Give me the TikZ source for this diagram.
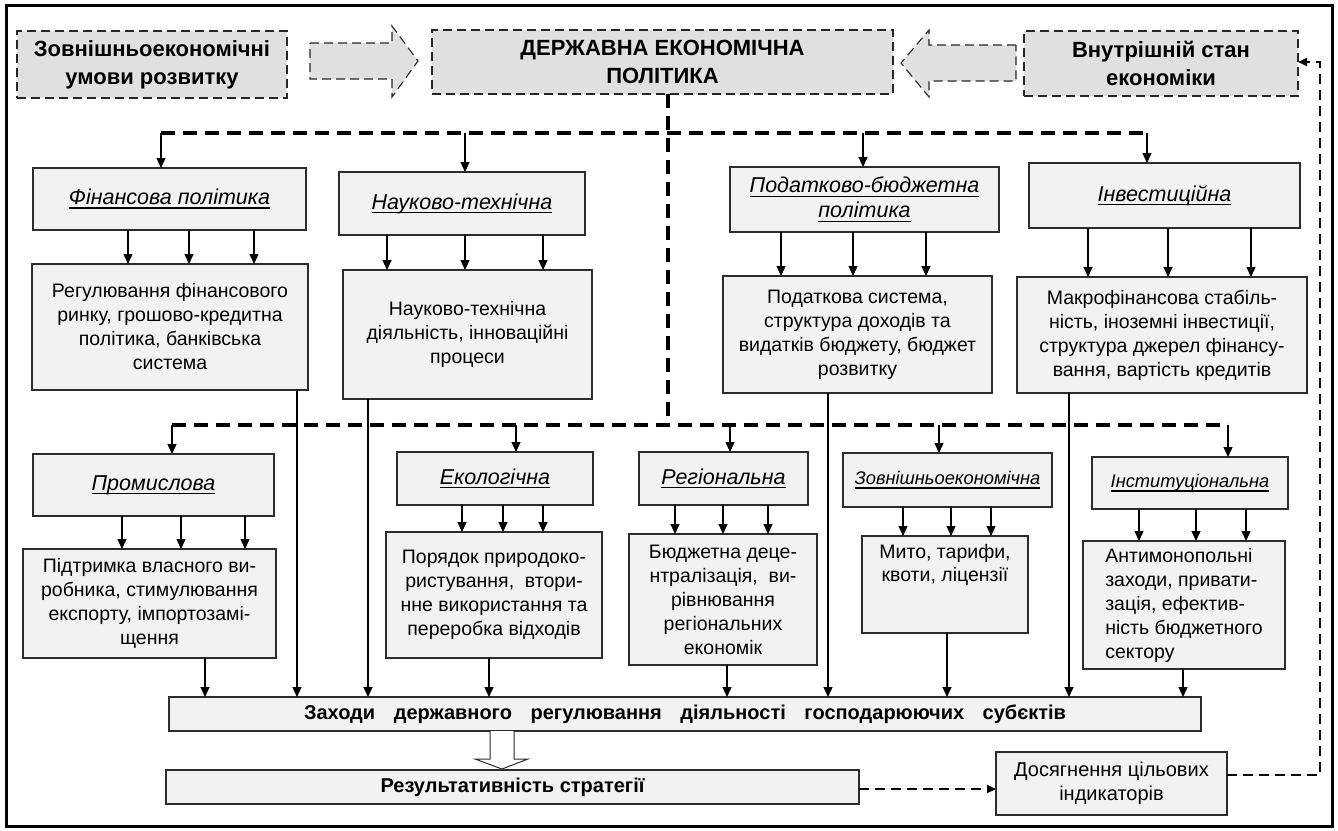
\documentclass[tikz,border=0pt]{standalone}
\usepackage{fontspec}
\setmainfont{Liberation Sans}
\usetikzlibrary{arrows.meta}
\definecolor{topgrey}{RGB}{224,224,224}
\definecolor{boxgrey}{RGB}{242,242,242}
\definecolor{edge}{RGB}{45,45,45}
\newsavebox\myulbox
\newcommand\myul[1]{\sbox\myulbox{#1}\rlap{\rule[-4pt]{\wd\myulbox}{1.3pt}}\usebox\myulbox}
\newcommand\mkbox[6]{\node[#2, minimum width={(#5-#3)*1pt}, minimum height={(#6-#4)*1pt}] (#1) at ({(#3+#5)/2},{(#4+#6)/2})}
\tikzset{
  topbox/.style={draw=black!85, dash pattern=on 9pt off 5pt, line width=1.1pt, fill=topgrey, inner sep=0pt, outer sep=0pt, align=center, font=\fontsize{22}{28}\selectfont\bfseries},
  pbox/.style={draw=edge, line width=1.1pt, fill=boxgrey, inner sep=0pt, outer sep=0pt, align=center, font=\fontsize{19.5}{24}\selectfont},
  tbox/.style={pbox, font=\fontsize{21.5}{25}\selectfont\itshape},
  sbox/.style={pbox, font=\fontsize{18.3}{22}\selectfont\itshape},
  barbox/.style={pbox, font=\fontsize{20}{24}\selectfont\bfseries},
  bigdash/.style={line width=3.5pt, dash pattern=on 14pt off 8pt},
  fbdash/.style={line width=2pt, dash pattern=on 10pt off 6pt},
  arr/.style={line width=1.3pt, -{Triangle[length=10pt,width=9pt]}},
  blockarrow/.style={draw=black!85, dash pattern=on 9pt off 5pt, line width=1.1pt, fill=topgrey},
}
\begin{document}
\begin{tikzpicture}[x=1pt,y=-1pt]
\useasboundingbox (0,0) rectangle (1338,830);
\fill[white] (0,0) rectangle (1338,830);
\draw[line width=3pt] (6,5) rectangle (1332,826);

% top row
\mkbox{ext}{topbox}{17}{31}{287}{98}{Зовнішньоекономічні\\умови розвитку};
\mkbox{dep}{topbox}{432}{30}{893}{94}{ДЕРЖАВНА ЕКОНОМІЧНА\\ПОЛІТИКА};
\mkbox{int}{topbox}{1024}{31}{1298}{96}{Внутрішній стан\\економіки};
\draw[blockarrow] (310,43) -- (392,43) -- (392,26) -- (418,61) -- (392,97) -- (392,79) -- (310,79) -- cycle;
\draw[blockarrow] (1016,45) -- (929,45) -- (929,30) -- (901,63) -- (929,97) -- (929,81) -- (1016,81) -- cycle;

% row 1 titles
\mkbox{fin}{tbox}{33}{168}{306}{230}{\myul{Фінансова політика}};
\mkbox{nauk}{tbox}{339}{172}{585}{235}{\myul{Науково-технічна}};
\mkbox{pod}{tbox}{730}{167}{999}{232}{\myul{Податково-бюджетна}\\\myul{політика}};
\mkbox{inv}{tbox}{1029}{163}{1300}{228}{\myul{Інвестиційна}};
% row 1 contents
\mkbox{reg}{pbox}{32}{264}{308}{390}{Регулювання фінансового\\ринку, грошово-кредитна\\політика, банківська\\система};
\mkbox{nd}{pbox}{343}{270}{592}{399}{Науково-технічна\\діяльність, інноваційні\\процеси};
\mkbox{ps}{pbox}{723}{276}{992}{393}{Податкова система,\\структура доходів та\\видатків бюджету, бюджет\\розвитку};
\mkbox{mf}{pbox}{1017}{277}{1307}{393}{Макрофінансова стабіль-\\ність, іноземні інвестиції,\\структура джерел фінансу-\\вання, вартість кредитів};

% row 2 titles
\mkbox{prom}{tbox}{33}{454}{274}{516}{\myul{Промислова}};
\mkbox{eko}{tbox}{397}{452}{593}{505}{\myul{Екологічна}};
\mkbox{regn}{tbox}{639}{452}{808}{505}{\myul{Регіональна}};
\mkbox{zed}{sbox}{843}{453}{1052}{507}{\myul{Зовнішньоекономічна}};
\mkbox{inst}{sbox}{1092}{457}{1288}{509}{\myul{Інституціональна}};
% row 2 contents
\mkbox{pidt}{pbox}{23}{549}{276}{658}{Підтримка власного ви-\\робника, стимулювання\\експорту, імпортозамі-\\щення};
\mkbox{por}{pbox}{386}{532}{602}{658}{Порядок природоко-\\ристування,\ \ втори-\\нне використання та\\переробка відходів};
\mkbox{bud}{pbox}{629}{534}{817}{665}{Бюджетна деце-\\нтралізація,\ \ ви-\\рівнювання\\регіональних\\економік};
\mkbox{myto}{pbox,label={[name=mytoT, anchor=north, align=center, font=\fontsize{19.5}{23}\selectfont, yshift=-5pt]north:{Мито, тарифи,\\квоти, ліцензії}}}{862}{536}{1028}{633}{};
\mkbox{anti}{pbox,align=left}{1083}{541}{1285}{669}{Антимонопольні\\заходи, привати-\\зація, ефектив-\\ність бюджетного\\сектору};

% bottom
\mkbox{zah}{barbox}{169}{697}{1201}{731}{\makebox[762pt][s]{Заходи державного регулювання діяльності господарюючих субєктів}};
\mkbox{res}{barbox}{166}{770}{859}{804}{Результативність стратегії};
\mkbox{dos}{pbox, font=\fontsize{20}{24}\selectfont}{996}{752}{1227}{815}{Досягнення цільових\\індикаторів};

% dashed distribution lines
\coordinate (jA) at (668,425);
\coordinate (hL) at (161,133);
\coordinate (hR) at (1147,133);
\coordinate (lL) at (172,425);
\coordinate (lR) at (1228,425);
\draw[bigdash] (dep.south -| jA) -- (jA);
\draw[bigdash] (hL) -- (hR);
\draw[bigdash] (lL) -- (lR);
\draw[arr] (hL) -- (fin.north -| hL);
\draw[arr] (465,133) -- (nauk.north -| 465,0);
\draw[arr] (863,133) -- (pod.north -| 863,0);
\draw[arr] (hR) -- (inv.north -| hR);
\draw[arr] (lL) -- (prom.north -| lL);
\draw[arr] (516,425) -- (eko.north -| 516,0);
\draw[arr] (730,425) -- (regn.north -| 730,0);
\draw[arr] (939,425) -- (zed.north -| 939,0);
\draw[arr] (lR) -- (inst.north -| lR);

% title -> content arrows
\foreach \a/\b/\x in {fin/reg/128, fin/reg/189, fin/reg/254,
  nauk/nd/387, nauk/nd/465, nauk/nd/543,
  pod/ps/781, pod/ps/853, pod/ps/926,
  inv/mf/1088, inv/mf/1168, inv/mf/1251,
  prom/pidt/122, prom/pidt/181, prom/pidt/245,
  eko/por/462, eko/por/503, eko/por/543,
  regn/bud/675, regn/bud/723, regn/bud/768,
  zed/myto/903, zed/myto/951, zed/myto/991,
  inst/anti/1139, inst/anti/1196, inst/anti/1246}
  \draw[arr] (\a.south -| \x,0) -- (\b.north -| \x,0);

% content -> measures bar
\foreach \a/\x in {reg/297, nd/368, ps/828, mf/1069, pidt/205, por/489, bud/727, myto/947, anti/1183}
  \draw[arr] (\a.south -| \x,0) -- (zah.north -| \x,0);

% hollow arrow
\draw[line width=1pt, draw=edge, fill=white] (490,731) -- (490,759) -- (475,759) -- (502,769) -- (528,759) -- (514,759) -- (514,731);

% result -> target -> feedback
\draw[fbdash, -{Triangle[length=9pt,width=8pt]}] (res.east |- 0,789) -- (dos.west |- 0,789);
\coordinate (fb1) at (1320,775);
\coordinate (fb2) at (1320,62);
\draw[fbdash, -{Triangle[length=9pt,width=8pt]}] (dos.east |- fb1) -- (fb1) -- (fb2) -- (int.east |- fb2);
\end{tikzpicture}
\end{document}
